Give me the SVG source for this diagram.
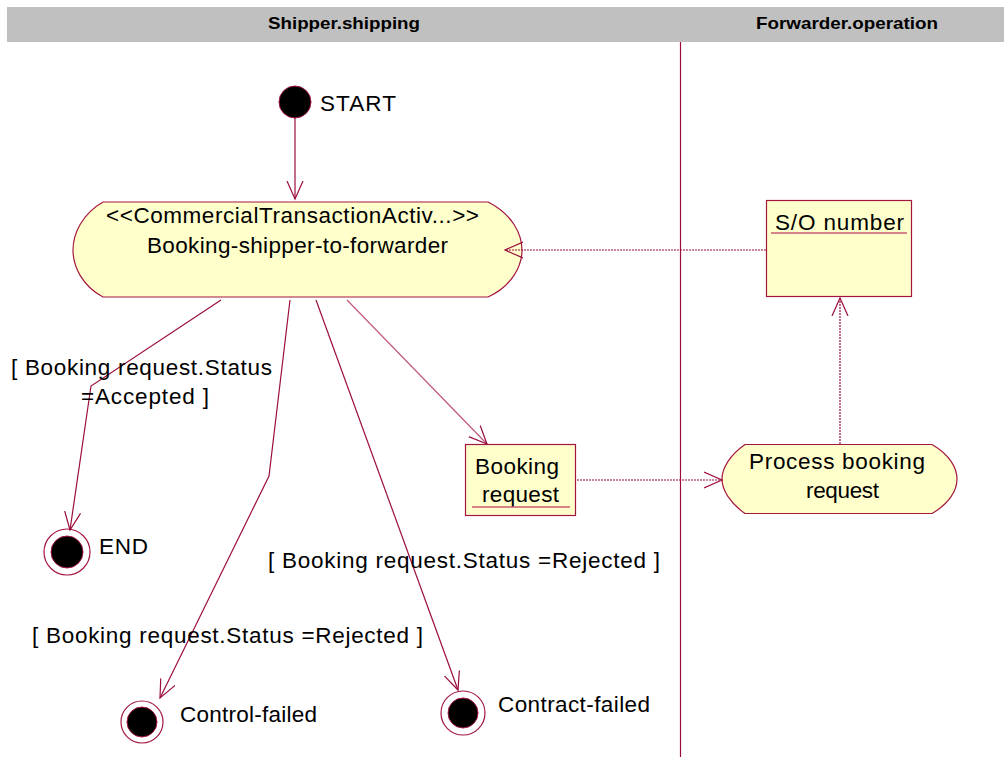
<svg xmlns="http://www.w3.org/2000/svg" width="1004" height="758" viewBox="0 0 1004 758">
  <defs>
    <style>
      text { font-family: "Liberation Sans", Arial, sans-serif; font-size: 22.5px; fill: #000; }
      .hdr { font-weight: bold; font-size: 17px; }
      .node { fill: #FFFFCC; stroke: #A3173F; stroke-width: 1.2; }
      .ul { stroke: #C85A73; stroke-width: 1.5; }
      .edge { fill: none; stroke: #9B0E3C; stroke-width: 1.2; }
      .light { stroke: #C25A7A; }
      .dash { stroke-dasharray: 2 1; }
      .final-o { fill: #fff; stroke: #A3173F; stroke-width: 1.2; }
      .dot { fill: #000; stroke: #A3173F; stroke-width: 1; }
    </style>
    <marker id="open" viewBox="0 0 20 20" refX="18" refY="10" markerWidth="20" markerHeight="20" markerUnits="userSpaceOnUse" orient="auto">
      <path d="M0,2 L18,10 L0,18" fill="none" stroke="#9B0E3C" stroke-width="1.2"/>
    </marker>
  </defs>

  <rect width="1004" height="758" fill="#fff"/>

  <!-- swimlane headers -->
  <g id="lanes">
    <rect x="7" y="7" width="997" height="35" fill="#C0C0C0"/>
    <text class="hdr" x="268" y="29" textLength="152" lengthAdjust="spacingAndGlyphs">Shipper.shipping</text>
    <text class="hdr" x="756" y="29" textLength="182" lengthAdjust="spacingAndGlyphs">Forwarder.operation</text>
    <line x1="680.5" y1="42" x2="680.5" y2="757" stroke="#9B0E3C" stroke-width="1.2"/>
  </g>

  <g id="start">
    <circle class="dot" cx="295" cy="102" r="16"/>
    <text x="320" y="111" textLength="76">START</text>
  </g>

  <g id="booking-shipper-to-forwarder">
    <path class="node" d="M103,202 H488 C512,214 522,234 522,250 C522,266 512,286 488,297 H103 C82,286 73,266 73,250 C73,234 82,214 103,202 Z"/>
    <text x="106" y="223" textLength="373">&lt;&lt;CommercialTransactionActiv...&gt;&gt;</text>
    <text x="147" y="253" textLength="301">Booking-shipper-to-forwarder</text>
  </g>

  <g id="so-number">
    <rect class="node" x="766.5" y="200.5" width="145" height="96"/>
    <text x="775" y="230" textLength="129">S/O number</text>
    <line class="ul" x1="771" y1="233" x2="907" y2="233"/>
  </g>

  <g id="booking-request">
    <rect class="node" x="465.5" y="444.5" width="110" height="71"/>
    <text x="475" y="474" textLength="84">Booking</text>
    <text x="482" y="502" textLength="77">request</text>
    <line class="ul" x1="472" y1="507" x2="570" y2="507"/>
  </g>

  <g id="process-booking-request">
    <path class="node" d="M745,444.5 H932 C950,455 957,468 957,479 C957,490 950,503 932,513.5 H745 C730,503 722,490 722,479 C722,468 730,455 745,444.5 Z"/>
    <text x="749" y="469" textLength="176">Process booking</text>
    <text x="806" y="498" textLength="73">request</text>
  </g>

  <g id="end">
    <circle class="final-o" cx="67" cy="552" r="23"/>
    <circle class="dot" cx="67" cy="552" r="16"/>
    <text x="99" y="554" textLength="49">END</text>
  </g>

  <g id="control-failed">
    <circle class="final-o" cx="142" cy="722" r="21"/>
    <circle class="dot" cx="142" cy="722" r="15"/>
    <text x="180" y="722" textLength="137">Control-failed</text>
  </g>

  <g id="contract-failed">
    <circle class="final-o" cx="463" cy="713" r="22"/>
    <circle class="dot" cx="463" cy="713" r="15"/>
    <text x="498" y="712" textLength="152">Contract-failed</text>
  </g>

  <!-- connectors -->
  <g id="connectors">
    <line class="edge" x1="295" y1="118" x2="295" y2="199" marker-end="url(#open)"/>
    <line class="edge dash" x1="766" y1="250" x2="505" y2="250" marker-end="url(#open)"/>
    <line class="edge light" x1="347" y1="300" x2="487" y2="444" marker-end="url(#open)"/>
    <line class="edge dash" x1="577" y1="480" x2="722" y2="480" marker-end="url(#open)"/>
    <line class="edge dash" x1="840" y1="444" x2="840" y2="298" marker-end="url(#open)"/>
    <polyline class="edge" points="221,300 91,386 70,530" marker-end="url(#open)"/>
    <polyline class="edge" points="290,300 269,476 160,698" marker-end="url(#open)"/>
    <line class="edge" x1="316" y1="300" x2="458" y2="690" marker-end="url(#open)"/>
  </g>

  <!-- guard labels -->
  <g id="guards">
    <text x="11" y="375" textLength="261">[ Booking request.Status</text>
    <text x="81" y="404" textLength="128">=Accepted ]</text>
    <text x="268" y="568" textLength="392">[ Booking request.Status =Rejected ]</text>
    <text x="32" y="643" textLength="391">[ Booking request.Status =Rejected ]</text>
  </g>
</svg>
